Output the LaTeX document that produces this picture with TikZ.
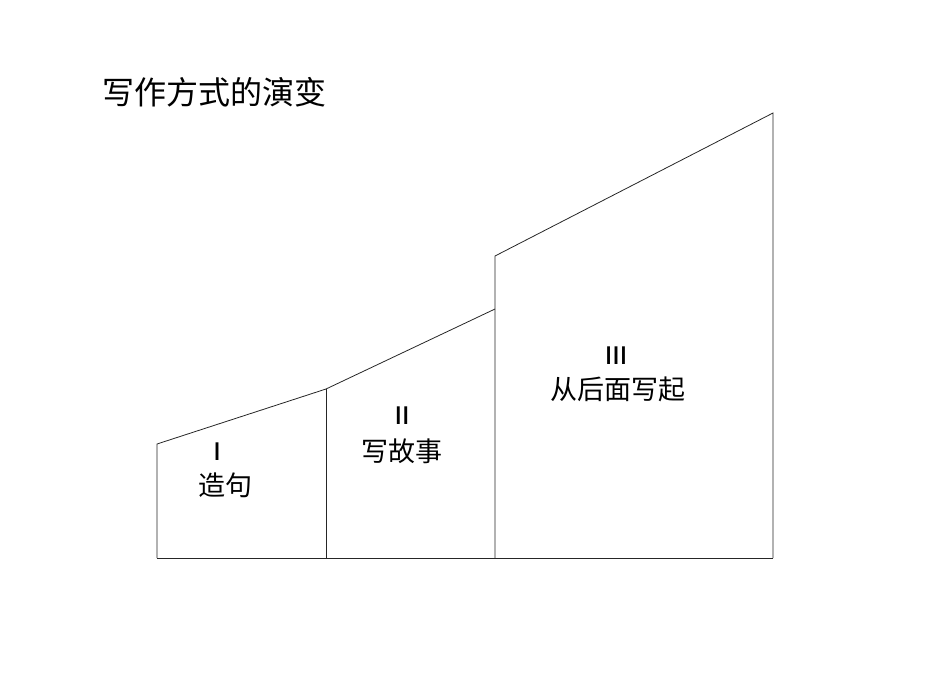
\documentclass[tikz,border=0pt]{standalone}
\usepackage{fontspec}
\setmainfont{Noto Sans CJK SC}
\newfontfamily\numfont{Noto Sans CJK SC Medium}
\newcommand{\setup}{
    \coordinate (b0) at (157,558);
    \coordinate (b1) at (326,558);
    \coordinate (b2) at (495,558);
    \coordinate (b3) at (773,558);

    \coordinate (t0) at (157,444);
    \coordinate (t1) at (326,389);
    \coordinate (t2) at (495,309);
    \coordinate (t3) at (495,256);
    \coordinate (t4) at (773,113);
}
\tikzset{
    edge/.style={line width=0.8pt,black!85},
    numtext/.style={font=\numfont\fontsize{24}{26}\selectfont},
    steptext/.style={font=\fontsize{27}{32}\selectfont}
}

\begin{document}
\begin{tikzpicture}[x=1pt,y=-1pt]
          \useasboundingbox (0,0) rectangle (950,672);
          \setup;

          \node[font=\fontsize{32}{38}\selectfont] (title) at (214,92) {写作方式的演变};

          \draw[edge] (b0) -- (b3); % ground line
          \draw[edge] (b0) -- (t0) -- (t1) -- (t2);
          \draw[edge] (b1) -- (t1);
          \draw[edge] (b2) -- (t2) -- (t3) -- (t4) -- (b3);

          \node[numtext]  (n1) at (217,452) {Ⅰ};
          \node[steptext] (s1) at (225,485) {造句};
          \node[numtext]  (n2) at (402,416) {Ⅱ};
          \node[steptext] (s2) at (402,451) {写故事};
          \node[numtext]  (n3) at (616,356) {Ⅲ};
          \node[steptext] (s3) at (618,389) {从后面写起};
        \end{tikzpicture}
\end{document}
